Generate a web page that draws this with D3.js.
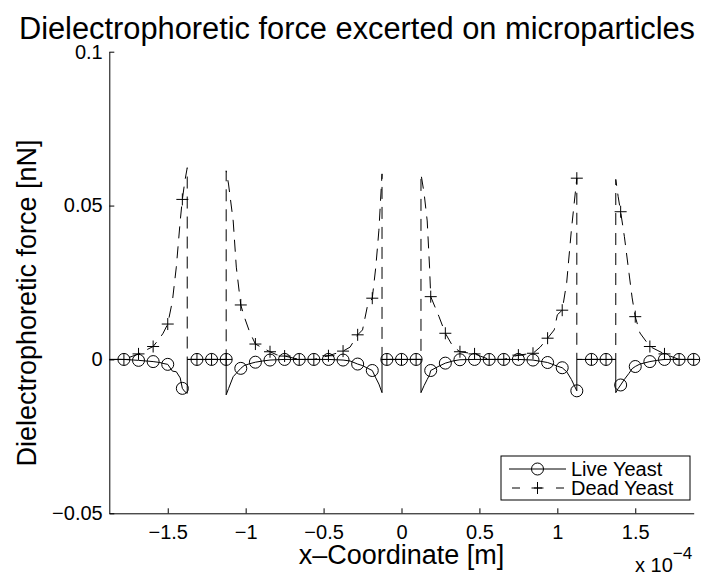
<!DOCTYPE html>
<html>
<head>
<meta charset="utf-8">
<script src="https://cdn.jsdelivr.net/npm/d3@7"></script>
<style>
  html, body { margin: 0; padding: 0; background: #fff; }
  svg { display: block; font-family: "Liberation Sans", Arial, Helvetica, sans-serif; }
</style>
</head>
<body>
<svg id="chart" width="702" height="575"></svg>
<script>
// x-coordinate in units of 1e-4 m
const xPositions = [
  -1.875, -1.78125, -1.6875, -1.59375, -1.55, -1.53, -1.5, -1.47, -1.445, -1.42, -1.40625, -1.39, -1.375,
  -1.375, -1.3125, -1.21875, -1.125,
  -1.125, -1.11, -1.08, -1.06, -1.03125, -1.01, -0.975, -0.9375, -0.89, -0.84375, -0.8, -0.75, -0.65625,
  -0.5625, -0.46875, -0.375, -0.33, -0.28125, -0.25, -0.22, -0.1875, -0.165, -0.145, -0.125,
  -0.125, -0.09375, 0, 0.09375, 0.125,
  0.125, 0.145, 0.165, 0.18, 0.1875, 0.24, 0.28125, 0.33, 0.375, 0.46875, 0.5625, 0.65625, 0.75,
  0.84375, 0.89, 0.9375, 0.98, 1.0, 1.03125, 1.06, 1.09, 1.125,
  1.125, 1.21875, 1.3125, 1.375,
  1.375, 1.39, 1.40625, 1.43, 1.46, 1.48, 1.5, 1.53, 1.59375, 1.64, 1.6875, 1.78125, 1.875
];
// Dielectrophoretic force [nN]
const liveForce = [
  0, 0, -0.0003, -0.0007, -0.0010, -0.0013, -0.0016, -0.0038, -0.0040, -0.0060, -0.0094, -0.0105, -0.0110,
  0, 0, 0, 0,
  -0.0115, -0.0095, -0.0056, -0.0045, -0.0029, -0.0020, -0.0014, -0.0009, -0.0005, -0.0002, -0.0001, 0, 0,
  0, 0, -0.0002, -0.0005, -0.0015, -0.0020, -0.0028, -0.0036, -0.0060, -0.0080, -0.0108,
  0, 0, 0, 0, 0,
  -0.0108, -0.0085, -0.0065, -0.0050, -0.0036, -0.0022, -0.0012, -0.0005, -0.0001, 0, 0, 0, 0,
  -0.0002, -0.0006, -0.0010, -0.0018, -0.0022, -0.0027, -0.0040, -0.0065, -0.0102,
  0, 0, 0, 0,
  -0.0108, -0.0095, -0.0083, -0.0065, -0.0045, -0.0030, -0.0023, -0.0015, -0.0007, -0.0003, 0, 0, 0
];
const deadForce = [
  0, 0, 0.0018, 0.0042, 0.0070, 0.0085, 0.0115, 0.0190, 0.0300, 0.0450, 0.0520, 0.0580, 0.0623,
  0, 0, 0, 0,
  0.0613, 0.0570, 0.0450, 0.0300, 0.0177, 0.0140, 0.0090, 0.0050, 0.0037, 0.0025, 0.0015, 0.0011, 0,
  0, 0.0012, 0.0027, 0.0040, 0.0080, 0.0096, 0.0170, 0.0199, 0.0300, 0.0420, 0.0603,
  0, 0, 0, 0, 0,
  0.0603, 0.0540, 0.0450, 0.0300, 0.0204, 0.0140, 0.0085, 0.0042, 0.0025, 0.0018, 0, 0, 0.0014,
  0.0020, 0.0040, 0.0069, 0.0096, 0.0145, 0.0160, 0.0250, 0.0420, 0.0589,
  0, 0, 0, 0,
  0.0585, 0.0530, 0.0480, 0.0400, 0.0280, 0.0200, 0.0139, 0.0086, 0.0042, 0.0030, 0.0018, 0, 0
];
// positions where markers are drawn
const markerX = [
  -1.78125, -1.6875, -1.59375, -1.5, -1.40625, -1.3125, -1.21875, -1.125, -1.03125, -0.9375,
  -0.84375, -0.75, -0.65625, -0.5625, -0.46875, -0.375, -0.28125, -0.1875, -0.09375, 0,
  0.09375, 0.1875, 0.28125, 0.375, 0.46875, 0.5625, 0.65625, 0.75, 0.84375, 0.9375,
  1.03125, 1.125, 1.21875, 1.3125, 1.40625, 1.5, 1.59375, 1.6875, 1.78125, 1.875
];
const xTicks = [-1.5, -1, -0.5, 0, 0.5, 1, 1.5];
const xTickLabels = ["\u22121.5", "\u22121", "\u22120.5", "0", "0.5", "1", "1.5"];
const yTicks = [-0.05, 0, 0.05, 0.1];
const yTickLabels = ["\u22120.05", "0", "0.05", "0.1"];
const seriesNames = ["Live Yeast", "Dead Yeast"];

const svg = d3.select("#chart");
const L = 109.3, R = 693.7, T = 51.7, B = 513.3;
const x = d3.scaleLinear().domain([-1.875, 1.875]).range([L, R]);
const y = d3.scaleLinear().domain([-0.05, 0.1]).range([B, T]);

const pts = xPositions.map((xv, i) => ({x: xv, live: liveForce[i], dead: deadForce[i]}));
const markers = markerX.map(mx => pts.find(p => Math.abs(p.x - mx) < 1e-9));

const dash = "12,8";
const lineLive = d3.line().x(d => x(d.x)).y(d => y(d.live));
const lineDead = d3.line().x(d => x(d.x)).y(d => y(d.dead));

const plot = svg.append("g");
plot.append("path").datum(pts).attr("d", lineLive)
  .attr("fill", "none").attr("stroke", "#000").attr("stroke-width", 1);
plot.append("path").datum(pts).attr("d", lineDead)
  .attr("fill", "none").attr("stroke", "#000").attr("stroke-width", 1).attr("stroke-dasharray", dash);

const ms = 6;
plot.selectAll("circle.live").data(markers).enter().append("circle")
  .attr("class", "live").attr("cx", d => x(d.x)).attr("cy", d => y(d.live)).attr("r", ms)
  .attr("fill", "none").attr("stroke", "#000").attr("stroke-width", 1);
plot.selectAll("path.dead").data(markers).enter().append("path")
  .attr("class", "dead")
  .attr("d", d => { const cx = x(d.x), cy = y(d.dead); return `M${cx-ms},${cy}H${cx+ms}M${cx},${cy-ms}V${cy+ms}`; })
  .attr("fill", "none").attr("stroke", "#000").attr("stroke-width", 1);

// axes
const yAxis = d3.axisLeft(y).tickValues(yTicks).tickFormat((d, i) => yTickLabels[i])
  .tickSizeInner(-5).tickSizeOuter(0).tickPadding(6.6);
const xAxis = d3.axisBottom(x).tickValues(xTicks).tickFormat((d, i) => xTickLabels[i])
  .tickSizeInner(-5).tickSizeOuter(0).tickPadding(11.5);
const gy = svg.append("g").attr("transform", `translate(${L},0)`).call(yAxis);
const gx = svg.append("g").attr("transform", `translate(0,${B})`).call(xAxis);
[gx, gy].forEach(g => {
  g.select(".domain").attr("stroke", "#000");
  g.selectAll(".tick line").attr("stroke", "#000");
  g.selectAll(".tick text").attr("fill", "#000").style("font-size", "20px")
    .style("font-family", "'Liberation Sans', Arial, sans-serif");
});

// labels
svg.append("text").attr("x", 695).attr("y", 39).attr("text-anchor", "end")
  .style("font-size", "30.8px").text("Dielectrophoretic force excerted on microparticles");
svg.append("text").attr("x", x(0)).attr("y", 564).attr("text-anchor", "middle")
  .style("font-size", "27px").text("x\u2013Coordinate [m]");
svg.append("text").attr("transform", `translate(36,303) rotate(-90)`).attr("text-anchor", "middle")
  .style("font-size", "27px").text("Dielectrophoretic force [nN]");
const mult = svg.append("text").attr("x", 635).attr("y", 572).style("font-size", "20px");
mult.append("tspan").text("x 10");
mult.append("tspan").attr("dy", -13).style("font-size", "17px").text("\u22124");

// legend
const lg = svg.append("g");
lg.append("rect").attr("x", 501).attr("y", 456).attr("width", 189).attr("height", 44)
  .attr("fill", "#fff").attr("stroke", "#000").attr("stroke-width", 1);
const rows = [{name: seriesNames[0], yy: 469, dashed: false}, {name: seriesNames[1], yy: 488, dashed: true}];
rows.forEach(r => {
  const ln = lg.append("line").attr("x1", 509).attr("x2", 566).attr("y1", r.yy).attr("y2", r.yy)
    .attr("stroke", "#000").attr("stroke-width", 1);
  if (r.dashed) ln.attr("stroke-dasharray", "8,14").attr("stroke-dashoffset", -3);
  const cx = 537.5;
  if (!r.dashed) {
    lg.append("circle").attr("cx", cx).attr("cy", r.yy).attr("r", ms).attr("fill", "none").attr("stroke", "#000");
  } else {
    lg.append("path").attr("d", `M${cx-ms},${r.yy}H${cx+ms}M${cx},${r.yy-ms}V${r.yy+ms}`).attr("stroke", "#000");
  }
  lg.append("text").attr("x", 571).attr("y", r.yy).attr("dy", "0.35em").style("font-size", "20px").text(r.name);
});
</script>
</body>
</html>
